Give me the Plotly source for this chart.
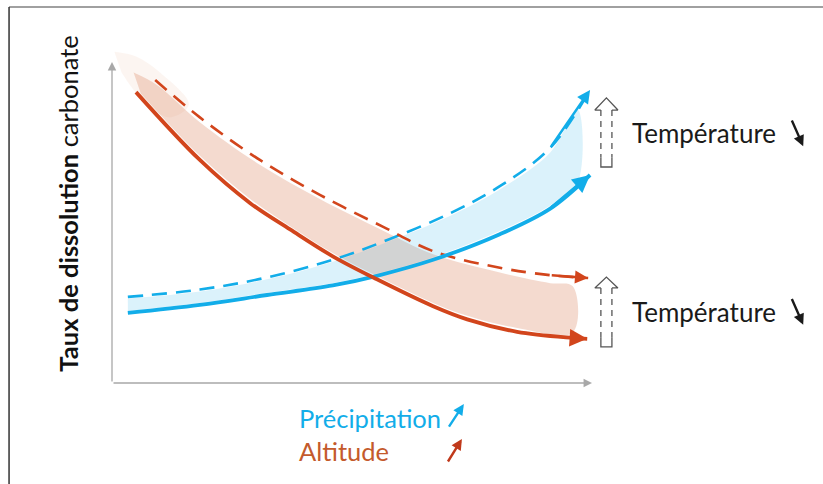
import plotly.graph_objects as go

# ---------------------------------------------------------------
# data (x: 0..10 along the axis, y: 0..10)
# ---------------------------------------------------------------
red_solid_x = [0.50, 1.83, 2.88, 3.71, 4.60, 5.52, 6.69, 7.40, 8.44, 9.60, 9.90]
red_solid_y = [9.09, 6.97, 5.62, 4.80, 3.96, 3.24, 2.40, 1.99, 1.60, 1.41, 1.38]

red_dash_x = [0.90, 1.83, 3.08, 4.33, 5.65, 6.69, 8.08, 9.13, 9.92]
red_dash_y = [9.47, 8.30, 6.97, 5.88, 4.88, 4.12, 3.60, 3.37, 3.28]

blue_solid_x = [0.33, 1.83, 3.23, 4.60, 5.52, 6.69, 8.08, 9.13, 9.96]
blue_solid_y = [2.19, 2.44, 2.75, 3.05, 3.35, 3.85, 4.65, 5.45, 6.50]

blue_dash_x = [0.33, 1.83, 3.23, 4.60, 5.79, 7.04, 8.08, 9.13, 9.96]
blue_dash_y = [2.69, 2.92, 3.30, 3.85, 4.50, 5.30, 6.15, 7.35, 9.16]

# shaded bands (edges as seen in the picture)
red_band_x = [0.45, 0.95, 1.83, 3.08, 4.33, 5.65, 6.69, 8.08, 9.13, 9.60,
              9.60, 8.44, 7.40, 6.69, 5.52, 4.60, 3.71, 2.88, 1.83, 0.60]
red_band_y = [9.70, 9.30, 8.15, 6.82, 5.75, 4.76, 4.02, 3.45, 3.12, 3.02,
              1.58, 1.72, 2.10, 2.50, 3.34, 4.06, 4.90, 5.75, 7.10, 9.05]
red_glow_x = [0.05, 0.50, 1.00, 1.60, 1.20, 0.60, 0.20]
red_glow_y = [10.35, 10.20, 9.70, 8.70, 8.30, 8.90, 9.70]

blue_band_x = [0.33, 1.83, 3.23, 4.60, 5.79, 7.04, 8.08, 9.13, 9.70, 9.70, 9.13, 8.08, 6.69, 5.52, 4.60, 3.23, 1.83, 0.33]
blue_band_y = [2.64, 2.86, 3.24, 3.79, 4.44, 5.22, 6.05, 7.20, 8.55, 6.25, 5.55, 4.75, 3.93, 3.42, 3.12, 2.82, 2.50, 2.25]

# hollow "temperature" arrows: centre x, top, head base, bottom
hollow_cx = [10.30, 10.30]
hollow_top = [8.91, 3.31]
hollow_base = [8.53, 2.97]
hollow_bot = [6.75, 1.13]

temp_labels = ["Température", "Température"]
temp_label_y = [7.80, 2.22]

RED = "#d2451c"
BLUE = "#12ade9"

fig = go.Figure()

# bands
fig.add_trace(go.Scatter(
    x=red_glow_x, y=red_glow_y, fill="toself", fillcolor="rgba(222,140,105,0.09)",
    mode="lines", line=dict(width=0, shape="spline"), hoverinfo="skip"))
fig.add_trace(go.Scatter(
    x=red_band_x, y=red_band_y, fill="toself", fillcolor="rgba(222,140,105,0.32)",
    mode="lines", line=dict(width=0, shape="spline"), hoverinfo="skip"))
fig.add_trace(go.Scatter(
    x=blue_band_x, y=blue_band_y, fill="toself", fillcolor="rgba(40,175,230,0.17)",
    mode="lines", line=dict(width=0, shape="spline"), hoverinfo="skip"))

# curves
fig.add_trace(go.Scatter(x=blue_dash_x, y=blue_dash_y, mode="lines",
                         line=dict(color=BLUE, width=2.6, dash="15px,9px", shape="spline")))
fig.add_trace(go.Scatter(x=red_dash_x, y=red_dash_y, mode="lines",
                         line=dict(color=RED, width=2.6, dash="15px,9px", shape="spline")))
fig.add_trace(go.Scatter(x=blue_solid_x, y=blue_solid_y, mode="lines",
                         line=dict(color=BLUE, width=3.8, shape="spline")))
fig.add_trace(go.Scatter(x=red_solid_x, y=red_solid_y, mode="lines",
                         line=dict(color=RED, width=3.8, shape="spline")))

# arrow heads at curve ends
for xs, ys, col, w in [(red_solid_x, red_solid_y, RED, 3.2), (red_dash_x, red_dash_y, RED, 2.4),
                       (blue_solid_x, blue_solid_y, BLUE, 3.2), (blue_dash_x, blue_dash_y, BLUE, 2.4)]:
    fig.add_annotation(x=xs[-1], y=ys[-1], ax=xs[-2], ay=ys[-2], axref="x", ayref="y",
                       xref="x", yref="y", text="", showarrow=True, arrowhead=2,
                       arrowsize=1.1, arrowwidth=w, arrowcolor=col)

# axes
fig.add_annotation(x=0, y=10.03, ax=0, ay=0, axref="x", ayref="y", text="", showarrow=True,
                   arrowhead=2, arrowsize=1.3, arrowwidth=1.3, arrowcolor="#a8a8a8")
fig.add_annotation(x=10.0, y=0, ax=0, ay=0, axref="x", ayref="y", text="", showarrow=True,
                   arrowhead=2, arrowsize=1.3, arrowwidth=1.3, arrowcolor="#a8a8a8")

# hollow arrows
for cx, top, base, bot in zip(hollow_cx, hollow_top, hollow_base, hollow_bot):
    hw, sw = 0.24, 0.115
    fig.add_trace(go.Scatter(x=[cx - sw, cx - hw, cx, cx + hw, cx + sw],
                             y=[base, base, top, base, base], mode="lines",
                             line=dict(color="#555555", width=1.3)))
    fig.add_trace(go.Scatter(x=[cx - sw, cx - sw, None, cx + sw, cx + sw],
                             y=[base, bot + 0.3, None, base, bot + 0.3], mode="lines",
                             line=dict(color="#555555", width=1.3, dash="6px,5px")))
    fig.add_trace(go.Scatter(x=[cx - sw, cx - sw, cx + sw, cx + sw],
                             y=[bot + 0.3, bot, bot, bot + 0.3], mode="lines",
                             line=dict(color="#555555", width=1.3)))

# temperature labels + black arrows
for lab, ly in zip(temp_labels, temp_label_y):
    fig.add_annotation(x=10.80, y=ly, xref="x", yref="y", text=lab, showarrow=False,
                       xanchor="left", font=dict(family="Lato", size=26, color="#1a1a1a"))
    fig.add_annotation(x=14.40, y=ly - 0.40, ax=14.15, ay=ly + 0.45, axref="x", ayref="y",
                       text="", showarrow=True, arrowhead=2, arrowsize=0.9, arrowwidth=2.4,
                       arrowcolor="#1a1a1a")

# y title
fig.add_annotation(x=-0.92, y=5.6, xref="x", yref="y", text="<b>Taux de dissolution</b> carbonate",
                   textangle=-90, showarrow=False, font=dict(family="Lato", size=25.5, color="#111111"))

# x labels
fig.add_annotation(x=3.85, y=-1.09, xref="x", yref="y", text="Précipitation", xanchor="left",
                   showarrow=False, font=dict(family="Lato", size=25.5, color=BLUE))
fig.add_annotation(x=3.85, y=-2.13, xref="x", yref="y", text="Altitude", xanchor="left",
                   showarrow=False, font=dict(family="Lato", size=25.5, color="#c45a2c"))
fig.add_annotation(x=7.33, y=-0.66, ax=7.0, ay=-1.41, axref="x", ayref="y", text="",
                   showarrow=True, arrowhead=2, arrowsize=0.9, arrowwidth=2.4, arrowcolor=BLUE)
fig.add_annotation(x=7.29, y=-1.75, ax=6.98, ay=-2.50, axref="x", ayref="y", text="",
                   showarrow=True, arrowhead=2, arrowsize=0.9, arrowwidth=2.4, arrowcolor="#c0391b")

# frame
fig.add_shape(type="line", xref="paper", yref="paper", x0=0.011, x1=1, y0=0.9855, y1=0.9855,
              line=dict(color="#a0a0a0", width=2))
fig.add_shape(type="line", xref="paper", yref="paper", x0=0.011, x1=0.011, y0=0, y1=0.9855,
              line=dict(color="#333333", width=1.5))

fig.update_layout(
    width=823, height=484, margin=dict(l=0, r=0, t=0, b=0),
    plot_bgcolor="white", paper_bgcolor="white", showlegend=False,
    xaxis=dict(range=[-112 / 48, 711 / 48], visible=False, fixedrange=True),
    yaxis=dict(range=[-101 / 32, 383 / 32], visible=False, fixedrange=True),
)

fig.write_html("out.html", config={"displayModeBar": False},
               post_script="document.body.style.margin='0px';")
